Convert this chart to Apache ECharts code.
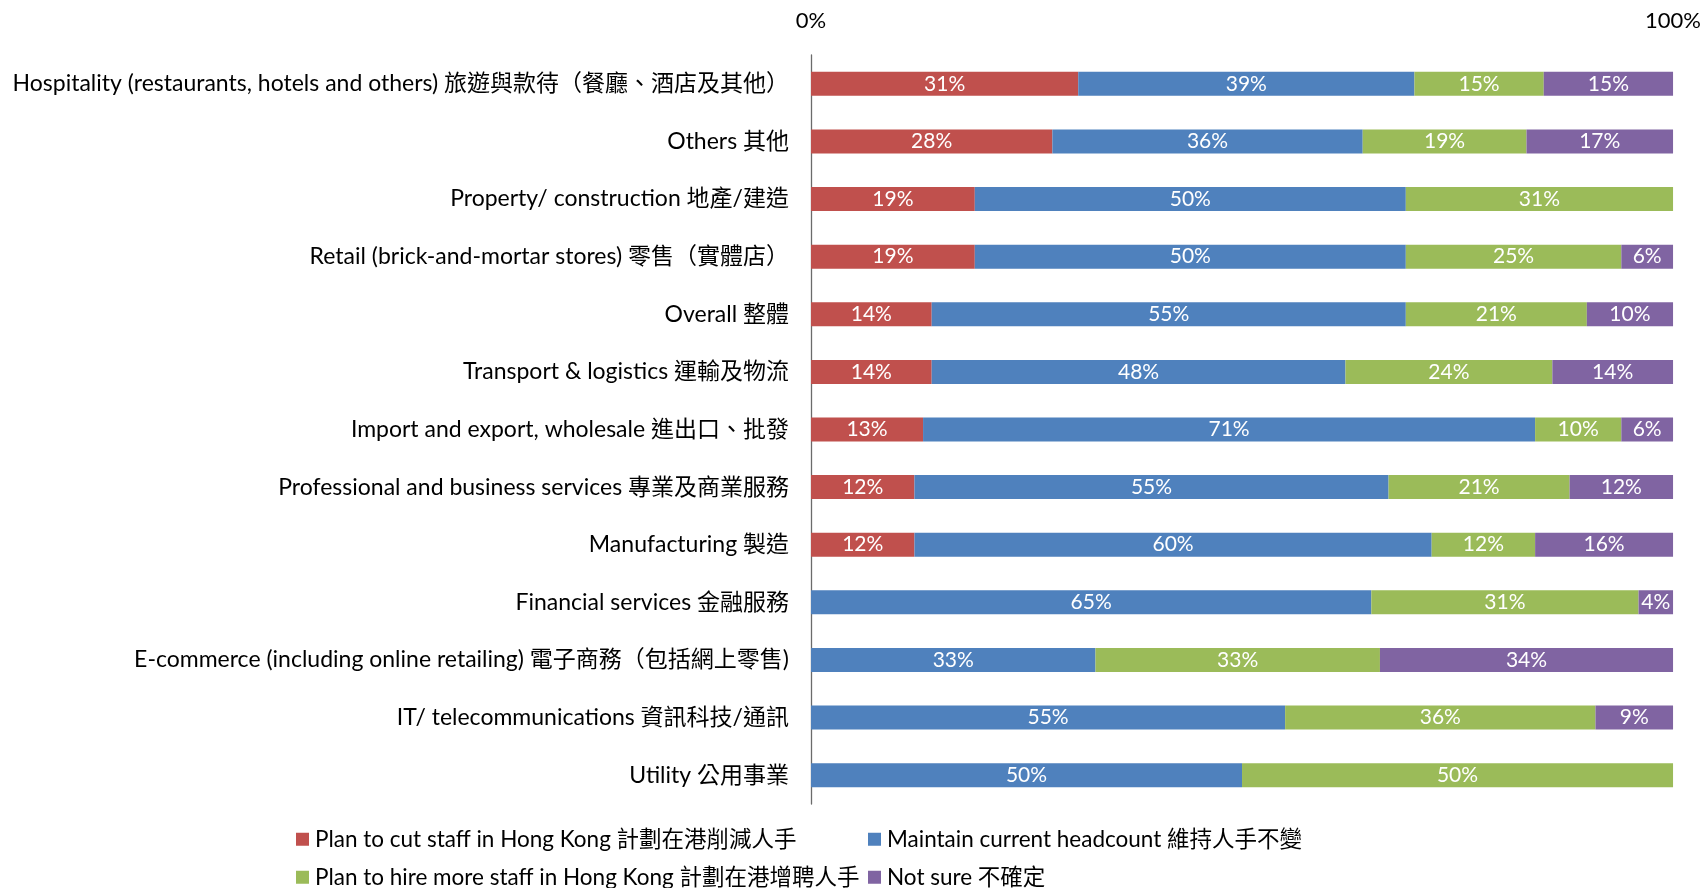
<!DOCTYPE html>
<html><head><meta charset="utf-8">
<script src="https://cdn.jsdelivr.net/npm/echarts@6/dist/echarts.min.js"></script>
<style>html,body{margin:0;padding:0;background:#fff}#c{width:1704px;height:888px}</style>
</head><body><div id="c"></div>
<script>
const categories = [
  "Hospitality (restaurants, hotels and others) 旅遊與款待（餐廳、酒店及其他）",
  "Others 其他",
  "Property/ construction 地產/建造",
  "Retail (brick-and-mortar stores) 零售（實體店）",
  "Overall 整體",
  "Transport & logistics 運輸及物流",
  "Import and export, wholesale 進出口、批發",
  "Professional and business services 專業及商業服務",
  "Manufacturing 製造",
  "Financial services 金融服務",
  "E-commerce (including online retailing) 電子商務（包括網上零售)",
  "IT/ telecommunications 資訊科技/通訊",
  "Utility 公用事業"
];
const seriesNames = [
  "Plan to cut staff in Hong Kong 計劃在港削減人手",
  "Maintain current headcount 維持人手不變",
  "Plan to hire more staff in Hong Kong 計劃在港增聘人手",
  "Not sure 不確定"
];
const cutStaff   = [31, 28, 19, 19, 14, 14, 13, 12, 12, 0, 0, 0, 0];
const maintain   = [39, 36, 50, 50, 55, 48, 71, 55, 60, 65, 33, 55, 50];
const hireMore   = [15, 19, 31, 25, 21, 24, 10, 21, 12, 31, 33, 36, 50];
const notSure    = [15, 17, 0, 6, 10, 14, 6, 12, 16, 4, 34, 9, 0];
const xTicks = [0, 100];

const colors = ["#C0504D", "#4F81BD", "#9BBB59", "#8064A2"];
const FONT = "Lato, 'Noto Sans CJK TC', sans-serif";
const values = [cutStaff, maintain, hireMore, notSure];
const legendPos = [[296, 828], [868, 828], [296, 866], [868, 866]];

const chart = echarts.init(document.getElementById('c'), null, {renderer: 'canvas'});
chart.setOption({
  animation: false,
  grid: {left: 811, right: 24, top: 55, bottom: 84, containLabel: false},
  xAxis: {
    type: 'value', position: 'top', min: xTicks[0], max: xTicks[1], interval: 100,
    axisLine: {show: false}, axisTick: {show: false}, splitLine: {show: false},
    axisLabel: {formatter: '{value}%', fontFamily: FONT, fontSize: 22, color: '#000', margin: 23}
  },
  yAxis: {
    type: 'category', data: categories, inverse: true,
    axisLine: {show: true, lineStyle: {color: '#6b6b6b', width: 1.3}},
    axisTick: {show: false},
    axisLabel: {fontFamily: FONT, fontSize: 23, color: '#000', margin: 22}
  },
  legend: seriesNames.map((n, i) => ({
    data: [n], orient: 'horizontal', left: legendPos[i][0], top: legendPos[i][1],
    itemWidth: 13, itemHeight: 13, itemGap: 6, icon: 'rect', padding: 0,
    textStyle: {fontFamily: FONT, fontSize: 22.5, color: '#000', padding: [0, 0, 0, 1]}
  })),
  series: seriesNames.map((n, i) => ({
    name: n, type: 'bar', stack: 'total', barWidth: 24,
    itemStyle: {color: colors[i]},
    data: values[i].map(v => v === 0 ? null : v),
    label: {
      show: true, position: 'inside', color: '#fff', fontFamily: FONT, fontSize: 21,
      formatter: p => p.value + '%'
    }
  }))
});
</script></body></html>
